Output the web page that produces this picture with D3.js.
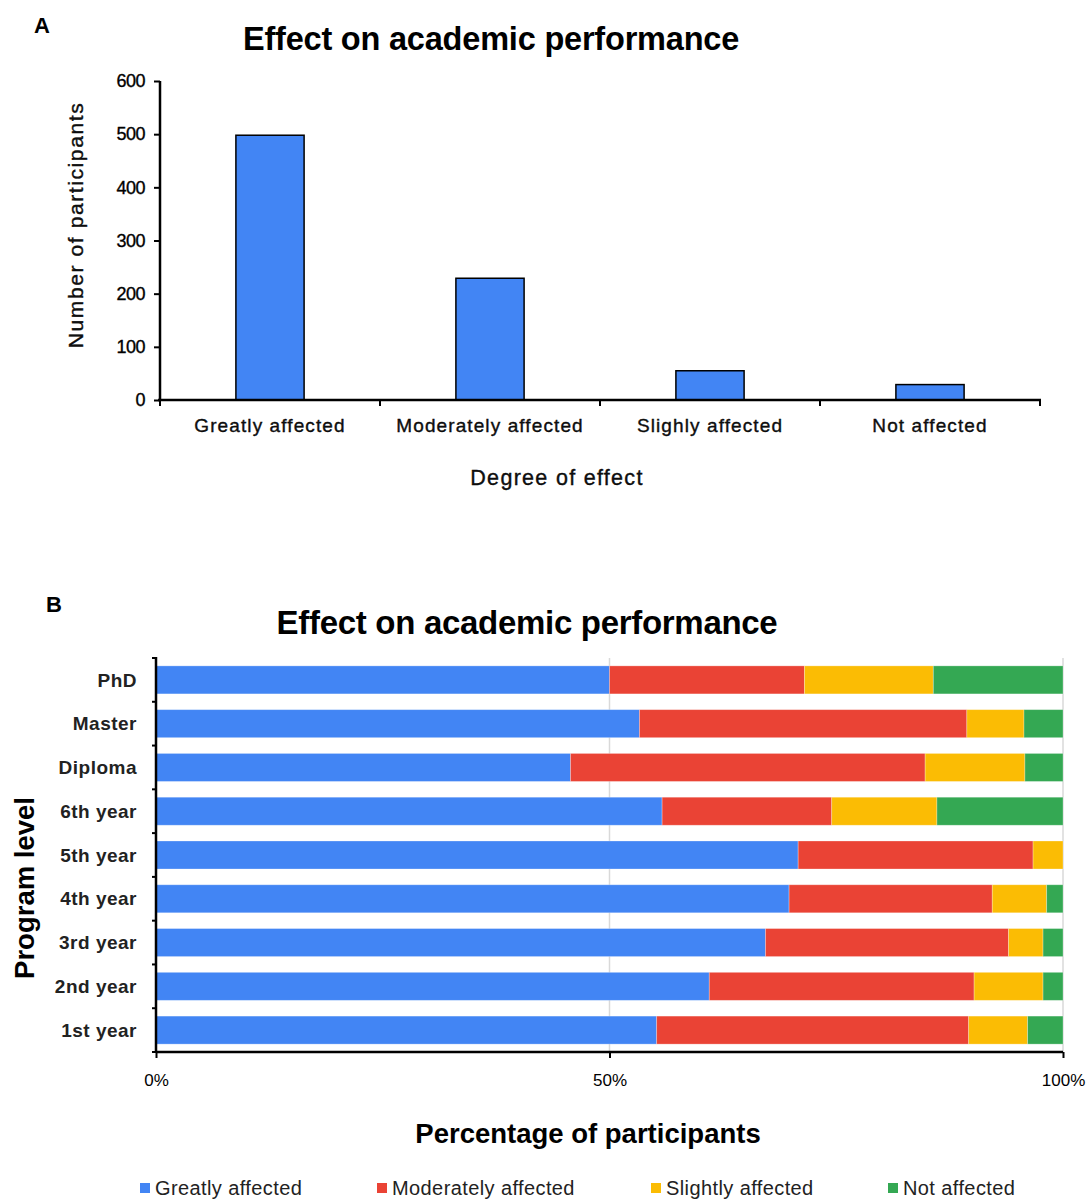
<!DOCTYPE html>
<html><head><meta charset="utf-8">
<script src="https://cdn.jsdelivr.net/npm/d3@7"></script>
<style>body{margin:0;background:#fff;} svg{display:block;font-family:"Liberation Sans",Arial,sans-serif;}</style>
</head><body>
<svg id="c" width="1088" height="1201"></svg>
<script>
// Panel A data
const degreeCategories = ["Greatly affected","Moderately affected","Slighly affected","Not affected"];
const participantCounts = [498, 229, 55, 29];
const countTicks = [0,100,200,300,400,500,600];

// Panel B data
const programLevels = ["PhD","Master","Diploma","6th year","5th year","4th year","3rd year","2nd year","1st year"];
const seriesNames = ["Greatly affected","Moderately affected","Slightly affected","Not affected"];
const greatly    = [50.0, 53.3, 45.7, 55.8, 70.8, 69.8, 67.2, 61.0, 55.2];
const moderately = [21.5, 36.1, 39.1, 18.7, 25.9, 22.4, 26.8, 29.2, 34.4];
const slightly   = [14.2,  6.3, 11.0, 11.6,  3.3,  6.0,  3.8,  7.6,  6.5];
const notAff     = [14.3,  4.3,  4.2, 13.9,  0.0,  1.8,  2.2,  2.2,  3.9];
const pctTicks = [0, 50, 100];
const colors = ["#4285F4","#EA4335","#FBBC04","#34A853"];

const svg = d3.select("#c");
const darken = sel => sel.attr("stroke","#000").attr("stroke-width",0.35);

// ---------- Panel A ----------
svg.append("text").attr("x",34).attr("y",33).attr("font-size",22).attr("font-weight","bold").text("A");
svg.append("text").attr("x",491).attr("y",50).attr("text-anchor","middle").attr("font-size",32.5).attr("font-weight","bold").attr("letter-spacing",-0.2).text("Effect on academic performance");

const ax = d3.scaleBand().domain(degreeCategories).range([160,1040]).paddingInner(0.69).paddingOuter(0.345);
const ay = d3.scaleLinear().domain([0,600]).range([400,81]);

const gA = svg.append("g");
gA.selectAll("rect.a").data(participantCounts).join("rect")
  .attr("x",(d,i)=>ax(degreeCategories[i])).attr("width",ax.bandwidth())
  .attr("y",d=>ay(d)).attr("height",d=>ay(0)-ay(d))
  .attr("fill","#4285F4").attr("stroke","#000").attr("stroke-width",1.5);

const yAxA = gA.append("g").attr("transform","translate(160,0)")
  .call(d3.axisLeft(ay).tickValues(countTicks).tickSize(6).tickPadding(9));
yAxA.select(".domain").attr("stroke-width",2.5).attr("d","M0,"+ay(600)+"V"+ay(0));
yAxA.selectAll(".tick line").attr("stroke-width",2);
yAxA.selectAll(".tick text").attr("font-size",18).attr("fill","#000").attr("letter-spacing",-0.5).call(darken);

const xAxA = gA.append("g").attr("transform","translate(0,400)");
xAxA.append("line").attr("x1",158).attr("x2",1041).attr("stroke","#000").attr("stroke-width",2.5);
const bStep = ax.step();
xAxA.selectAll("line.t").data(d3.range(degreeCategories.length+1)).join("line")
  .attr("x1",i=>160+i*bStep).attr("x2",i=>160+i*bStep).attr("y1",0).attr("y2",6)
  .attr("stroke","#000").attr("stroke-width",2);
xAxA.selectAll("text").data(degreeCategories).join("text")
  .attr("x",d=>ax(d)+ax.bandwidth()/2).attr("y",32).attr("text-anchor","middle")
  .attr("font-size",19).attr("letter-spacing",1.1).attr("fill","#111").text(d=>d).call(darken);

svg.append("text").attr("x",557).attr("y",485).attr("text-anchor","middle").attr("font-size",21.5).attr("letter-spacing",1.3).attr("fill","#111").text("Degree of effect").call(darken);
svg.append("text").attr("transform","translate(83,225) rotate(-90)").attr("text-anchor","middle").attr("font-size",21).attr("letter-spacing",1.6).attr("fill","#111").text("Number of participants").call(darken);

// ---------- Panel B ----------
svg.append("text").attr("x",46).attr("y",612).attr("font-size",22).attr("font-weight","bold").text("B");
svg.append("text").attr("x",527).attr("y",634).attr("text-anchor","middle").attr("font-size",33).attr("font-weight","bold").attr("letter-spacing",-0.3).text("Effect on academic performance");

const bx = d3.scaleLinear().domain([0,100]).range([156,1063]);
const by = d3.scaleBand().domain(programLevels).range([658,1052]).paddingInner(0.36).paddingOuter(0.18);

const gB = svg.append("g");
gB.selectAll("line.grid").data([50,100]).join("line")
  .attr("x1",d=>bx(d)).attr("x2",d=>bx(d)).attr("y1",658).attr("y2",1052)
  .attr("stroke","#d9d9d9").attr("stroke-width",1.5);

const seriesData = [greatly, moderately, slightly, notAff];
const rows = programLevels.map((p,i)=>{
  let acc = 0;
  return seriesData.map((s,k)=>{ const v={k, p, x0:acc, x1:acc+s[i]}; acc+=s[i]; return v; });
});
gB.selectAll("g.row").data(rows).join("g")
  .selectAll("rect").data(d=>d.filter(s=>s.x1>s.x0)).join("rect")
  .attr("x",d=>bx(d.x0)).attr("width",d=>bx(d.x1)-bx(d.x0))
  .attr("y",d=>by(d.p)).attr("height",by.bandwidth())
  .attr("fill",d=>colors[d.k]).attr("stroke","rgba(255,255,255,0.35)").attr("stroke-width",0.8);

const yAxB = gB.append("g").attr("transform","translate(156,0)");
yAxB.append("line").attr("y1",657).attr("y2",1053).attr("stroke","#000").attr("stroke-width",2.5);
const st = by.step();
yAxB.selectAll("line.t").data(d3.range(programLevels.length+1)).join("line")
  .attr("y1",i=>658+i*st).attr("y2",i=>658+i*st).attr("x1",0).attr("x2",-4)
  .attr("stroke","#000").attr("stroke-width",2);
yAxB.selectAll("text").data(programLevels).join("text")
  .attr("x",-19).attr("y",d=>by(d)+by.bandwidth()/2).attr("dy","0.35em").attr("text-anchor","end")
  .attr("font-size",19).attr("font-weight","bold").attr("fill","#222").attr("letter-spacing",0.5).text(d=>d);

const xAxB = gB.append("g").attr("transform","translate(0,1052)")
  .call(d3.axisBottom(bx).tickValues(pctTicks).tickFormat(d=>d+"%").tickSize(6).tickPadding(16));
xAxB.select(".domain").attr("stroke-width",2.5).attr("d","M"+bx(0)+",0H"+bx(100));
xAxB.selectAll(".tick line").attr("stroke-width",2);
xAxB.selectAll(".tick text").attr("font-size",17).attr("fill","#000");

svg.append("text").attr("x",588).attr("y",1143).attr("text-anchor","middle").attr("font-size",27.5).attr("font-weight","bold").text("Percentage of participants");
svg.append("text").attr("transform","translate(34,888) rotate(-90)").attr("text-anchor","middle").attr("font-size",27.5).attr("font-weight","bold").text("Program level");

const legX = [140, 377, 651, 888];
const leg = svg.append("g");
seriesNames.forEach((n,i)=>{
  leg.append("rect").attr("x",legX[i]).attr("y",1183).attr("width",10).attr("height",10).attr("fill",colors[i]);
  leg.append("text").attr("x",legX[i]+15).attr("y",1195).attr("font-size",20).attr("letter-spacing",0.4).attr("fill","#222").text(n);
});
</script>
</body></html>
